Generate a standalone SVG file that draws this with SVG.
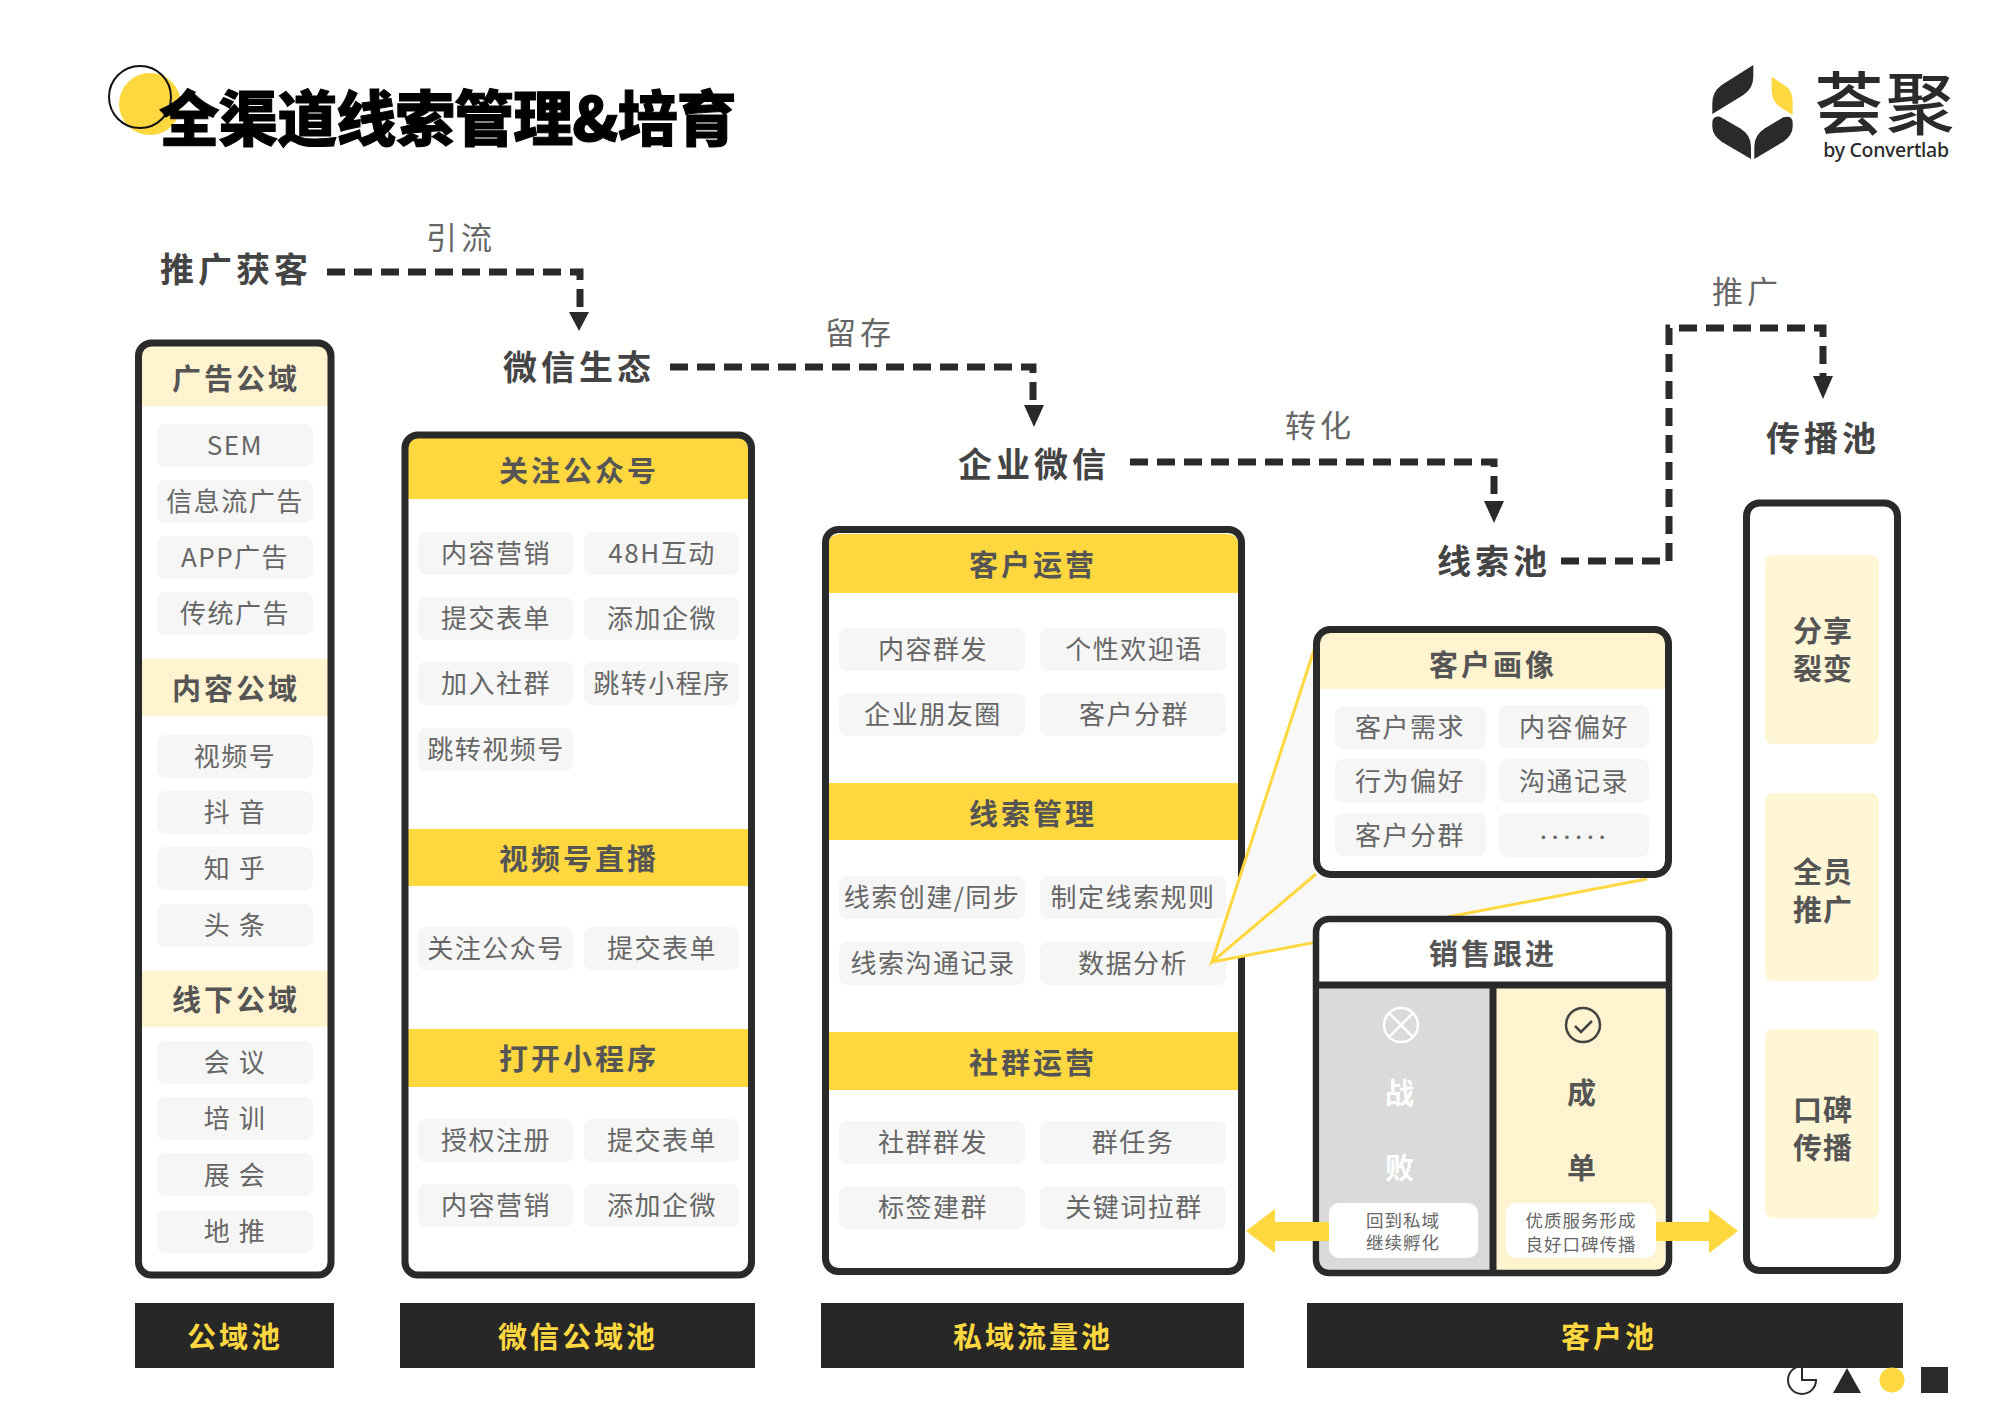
<svg xmlns="http://www.w3.org/2000/svg" width="2000" height="1421" viewBox="0 0 2000 1421">
<style>
text{font-family:"Noto Sans CJK SC","Noto Sans",sans-serif;text-anchor:middle;dominant-baseline:central;transform:translateY(-1.5px)}
.panel{fill:none;stroke:#2a2a2a;stroke-width:7}
.solid{fill:#FFD83F}
.pale{fill:#FFF4CF}
.item{fill:#F6F6F6}
.it{font-size:26px;letter-spacing:1.5px;fill:#666}
.hd{font-size:29px;letter-spacing:3px;font-weight:700;fill:#555}
.flow{font-size:34px;letter-spacing:4px;font-weight:700;fill:#444}
.lab{font-size:31px;letter-spacing:4px;fill:#666}
.dash{fill:none;stroke:#2a2a2a;stroke-width:7;stroke-dasharray:18 9}
.foot{fill:#272727}
.ft{font-size:29px;letter-spacing:3px;font-weight:700;fill:#FFD83F}
.ah{fill:#2a2a2a}
.card{font-size:29px;letter-spacing:1px;font-weight:700;fill:#555}
.small{font-size:17.500px;letter-spacing:1px;fill:#666}
</style>
<rect width="2000" height="1421" fill="#fff"/>
<g id="title">
<circle cx="150" cy="104" r="31" fill="#FFD83F"/>
<circle cx="140" cy="97" r="31" fill="none" stroke="#111" stroke-width="2"/>
<text x="447.500" y="116" font-size="60" font-weight="900" fill="#000" stroke="#000" stroke-width="1" letter-spacing="-1">全渠道线索管理&amp;培育</text>
</g>
<g id="logo">
<g transform="translate(1650 40) scale(.3333)">
<path fill="#2a2a2a" d="M310 75L215 135Q187 155 187 190V222L280 165Q310 145 310 110Z"/>
<path fill="#FFD83F" d="M365 110L410 140Q428 155 428 185V225L385 197Q365 180 365 150Z"/>
<path fill="#2a2a2a" d="M187 245Q190 228 210 230L270 265Q303 285 303 320V357L215 305Q187 285 187 260Z"/>
<path fill="#2a2a2a" d="M428 245Q425 225 400 232L345 265Q313 285 313 320V357L400 305Q428 285 428 260Z"/>
</g>
<text fill="#2a2a2a"><tspan x="1886" y="100" font-size="68" font-weight="500" letter-spacing="3">荟聚</tspan><tspan x="1886" y="150" font-size="19.500" font-weight="500" letter-spacing="-.3" style="font-family:'Noto Sans',sans-serif">by Convertlab</tspan></text>
</g>
<g id="connectors">
<path class="dash" d="M327 272H580V312"/>
<path class="ah" d="M569 312H589L579 331Z"/>
<path class="dash" d="M670 367H1033V405"/>
<path class="ah" d="M1024 405H1044L1034 427Z"/>
<path class="dash" d="M1130 462H1494V501"/>
<path class="ah" d="M1484 501H1504L1494 523Z"/>
<path class="dash" d="M1561 561H1669V328H1823V376"/>
<path class="ah" d="M1813 376H1833L1823 399Z"/>
</g>
<g id="flow-labels">
<text class="flow" x="236" y="269">推广获客</text>
<text class="lab" x="461" y="237">引流</text>
<text class="flow" x="579" y="367">微信生态</text>
<text class="lab" x="860" y="332">留存</text>
<text class="flow" x="1034" y="464">企业微信</text>
<text class="lab" x="1320" y="425">转化</text>
<text class="flow" x="1494" y="561">线索池</text>
<text class="lab" x="1747" y="291">推广</text>
<text class="flow" x="1823" y="438">传播池</text>
</g>
<g id="panel-public">
<path class="pale" d="M142 406V358Q142 346 154 346H316Q328 346 328 358V406Z"/>
<rect class="pale" x="142" y="659" width="186" height="57"/>
<rect class="pale" x="142" y="971" width="186" height="56"/>
<rect class="panel" x="138.500" y="343" width="192.500" height="932" rx="13"/>
<text class="hd" x="236" y="378">广告公域</text>
<text class="hd" x="236" y="688">内容公域</text>
<text class="hd" x="236" y="999">线下公域</text>
<g class="item">
<rect x="157" y="424" width="156" height="43" rx="8"/><rect x="157" y="480" width="156" height="43" rx="8"/><rect x="157" y="536" width="156" height="43" rx="8"/><rect x="157" y="592" width="156" height="43" rx="8"/>
<rect x="157" y="735" width="156" height="43" rx="8"/><rect x="157" y="791" width="156" height="43" rx="8"/><rect x="157" y="847" width="156" height="43" rx="8"/><rect x="157" y="904" width="156" height="43" rx="8"/>
<rect x="157" y="1041" width="156" height="43" rx="8"/><rect x="157" y="1097" width="156" height="43" rx="8"/><rect x="157" y="1153" width="156" height="43" rx="8"/><rect x="157" y="1210" width="156" height="43" rx="8"/>
</g>
<text class="it" x="235" y="445">SEM</text><text class="it" x="235" y="501">信息流广告</text><text class="it" x="235" y="557">APP广告</text><text class="it" x="235" y="613">传统广告</text>
<text class="it" x="235" y="756">视频号</text><text class="it" x="235" y="812">抖 音</text><text class="it" x="235" y="868">知 乎</text><text class="it" x="235" y="925">头 条</text>
<text class="it" x="235" y="1062">会 议</text><text class="it" x="235" y="1118">培 训</text><text class="it" x="235" y="1175">展 会</text><text class="it" x="235" y="1231">地 推</text>
</g>
<g id="panel-wechat">
<path class="solid" d="M408 499V450Q408 438 420 438H736Q748 438 748 450V499Z"/>
<rect class="solid" x="408" y="829" width="340" height="57"/>
<rect class="solid" x="408" y="1029" width="340" height="58"/>
<rect class="panel" x="405" y="435" width="346.500" height="840" rx="13"/>
<text class="hd" x="579" y="470">关注公众号</text>
<text class="hd" x="579" y="858">视频号直播</text>
<text class="hd" x="579" y="1058">打开小程序</text>
<g class="item">
<rect x="418" y="532" width="155" height="43" rx="8"/><rect x="584" y="532" width="155" height="43" rx="8"/>
<rect x="418" y="597" width="155" height="43" rx="8"/><rect x="584" y="597" width="155" height="43" rx="8"/>
<rect x="418" y="662" width="155" height="43" rx="8"/><rect x="584" y="662" width="155" height="43" rx="8"/>
<rect x="418" y="728" width="155" height="43" rx="8"/>
<rect x="418" y="927" width="155" height="43" rx="8"/><rect x="584" y="927" width="155" height="43" rx="8"/>
<rect x="418" y="1119" width="155" height="43" rx="8"/><rect x="584" y="1119" width="155" height="43" rx="8"/>
<rect x="418" y="1184" width="155" height="43" rx="8"/><rect x="584" y="1184" width="155" height="43" rx="8"/>
</g>
<text class="it" x="496" y="553">内容营销</text><text class="it" x="662" y="553">48H互动</text>
<text class="it" x="496" y="618">提交表单</text><text class="it" x="662" y="618">添加企微</text>
<text class="it" x="496" y="683">加入社群</text><text class="it" x="662" y="683">跳转小程序</text>
<text class="it" x="496" y="749">跳转视频号</text>
<text class="it" x="496" y="948">关注公众号</text><text class="it" x="662" y="948">提交表单</text>
<text class="it" x="496" y="1140">授权注册</text><text class="it" x="662" y="1140">提交表单</text>
<text class="it" x="496" y="1205">内容营销</text><text class="it" x="662" y="1205">添加企微</text>
</g>
<g id="panel-private">
<path class="solid" d="M829 593V544Q829 534 841 534H1226Q1238 534 1238 544V593Z"/>
<rect class="solid" x="829" y="783" width="409" height="57"/>
<rect class="solid" x="829" y="1032" width="409" height="58"/>
<rect class="panel" x="825.500" y="529.500" width="416" height="742" rx="13"/>
<text class="hd" x="1033" y="564">客户运营</text>
<text class="hd" x="1033" y="813">线索管理</text>
<text class="hd" x="1033" y="1062">社群运营</text>
<g class="item">
<rect x="839" y="628" width="186" height="43" rx="8"/><rect x="1040" y="628" width="186" height="43" rx="8"/>
<rect x="839" y="693" width="186" height="43" rx="8"/><rect x="1040" y="693" width="186" height="43" rx="8"/>
<rect x="839" y="876" width="186" height="43" rx="8"/><rect x="1040" y="876" width="186" height="43" rx="8"/>
<rect x="839" y="942" width="186" height="43" rx="8"/><rect x="1040" y="942" width="186" height="43" rx="8"/>
<rect x="839" y="1121" width="186" height="43" rx="8"/><rect x="1040" y="1121" width="186" height="43" rx="8"/>
<rect x="839" y="1186" width="186" height="43" rx="8"/><rect x="1040" y="1186" width="186" height="43" rx="8"/>
</g>
<text class="it" x="933" y="649">内容群发</text><text class="it" x="1134" y="649">个性欢迎语</text>
<text class="it" x="933" y="714">企业朋友圈</text><text class="it" x="1134" y="714">客户分群</text>
<text class="it" x="932" y="897">线索创建/同步</text><text class="it" x="1133" y="897">制定线索规则</text>
<text class="it" x="933" y="963">线索沟通记录</text><text class="it" x="1133" y="963">数据分析</text>
<text class="it" x="933" y="1142">社群群发</text><text class="it" x="1133" y="1142">群任务</text>
<text class="it" x="933" y="1207">标签建群</text><text class="it" x="1134" y="1207">关键词拉群</text>
</g>
<g id="callout">
<path d="M1212 962L1314 650V874L1647 879L1212 962Z" fill="#F8F8F8"/>
<path d="M1314 650L1212 962L1316 874M1212 962L1647 879" fill="none" stroke="#FFD83F" stroke-width="3"/>
</g>
<g id="panel-profile">
<rect x="1316" y="629" width="353" height="246" rx="14" fill="#fff"/>
<path class="pale" d="M1320 689V644Q1320 632 1332 632H1653Q1665 632 1665 644V689Z"/>
<rect x="1316.500" y="629.500" width="352" height="245" rx="14" fill="none" stroke="#2a2a2a" stroke-width="7"/>
<text class="hd" x="1493" y="664">客户画像</text>
<g class="item">
<rect x="1335" y="706" width="151" height="43" rx="8"/><rect x="1499" y="705" width="150" height="43" rx="8"/>
<rect x="1335" y="759" width="151" height="44" rx="8"/><rect x="1499" y="759" width="150" height="44" rx="8"/>
<rect x="1335" y="813" width="151" height="43" rx="8"/><rect x="1499" y="813" width="150" height="44" rx="8"/>
</g>
<text class="it" x="1410" y="727">客户需求</text><text class="it" x="1574" y="727">内容偏好</text>
<text class="it" x="1410" y="781">行为偏好</text><text class="it" x="1574" y="781">沟通记录</text>
<text class="it" x="1410" y="835">客户分群</text>
<text class="it" x="1575" y="829" style="letter-spacing:4.500px">......</text>
</g>
<g id="panel-sales">
<rect x="1316" y="919" width="353" height="354" rx="13" fill="#fff"/>
<path fill="#DADADA" d="M1320 986H1491V1273H1332Q1320 1273 1320 1260Z"/>
<path class="pale" d="M1491 986H1665V1260Q1665 1273 1652 1273H1491Z"/>
<rect x="1316" y="919" width="353" height="354" rx="13" fill="none" stroke="#2a2a2a" stroke-width="6.500"/>
<path d="M1316 985H1669M1493 985V1276" fill="none" stroke="#2a2a2a" stroke-width="7"/>
<text class="hd" x="1493" y="953">销售跟进</text>
<g fill="none" stroke="#fff" stroke-width="2.500"><circle cx="1401" cy="1025" r="17"/><path d="M1389 1013L1413 1037M1413 1013L1389 1037"/></g>
<g fill="none" stroke="#444" stroke-width="2.500"><circle cx="1583" cy="1025" r="17"/><path d="M1575 1026L1581 1032L1592 1021"/></g>
<text class="card" x="1400" y="1092" style="fill:#fff">战</text>
<text class="card" x="1400" y="1167" style="fill:#fff">败</text>
<text class="card" x="1582" y="1092">成</text>
<text class="card" x="1582" y="1167">单</text>
<path class="solid" d="M1246 1231L1275 1209V1222H1330V1241H1275V1253Z"/>
<path class="solid" d="M1738 1231L1709 1209V1222H1655V1241H1709V1253Z"/>
<rect x="1329" y="1203" width="149" height="55" rx="10" fill="#fff"/>
<rect x="1506" y="1203" width="150" height="55" rx="10" fill="#fff"/>
<text class="small"><tspan x="1403" y="1220">回到私域</tspan><tspan x="1403" y="1242">继续孵化</tspan></text>
<text class="small"><tspan x="1581" y="1220">优质服务形成</tspan><tspan x="1581" y="1244">良好口碑传播</tspan></text>
</g>
<g id="panel-spread">
<rect class="panel" x="1746.500" y="503" width="151" height="767.500" rx="13"/>
<rect x="1765" y="555" width="114" height="189" rx="8" fill="#FFF6D6"/>
<rect x="1765" y="793" width="114" height="188" rx="8" fill="#FFF6D6"/>
<rect x="1765" y="1029" width="114" height="189" rx="8" fill="#FFF6D6"/>
<text class="card"><tspan x="1823" y="630">分享</tspan><tspan x="1823" y="668">裂变</tspan></text>
<text class="card"><tspan x="1823" y="871">全员</tspan><tspan x="1823" y="909">推广</tspan></text>
<text class="card"><tspan x="1823" y="1109">口碑</tspan><tspan x="1823" y="1147">传播</tspan></text>
</g>
<g id="pool-bars">
<rect class="foot" x="135" y="1303" width="199" height="65"/>
<rect class="foot" x="400" y="1303" width="355" height="65"/>
<rect class="foot" x="821" y="1303" width="423" height="65"/>
<rect class="foot" x="1307" y="1303" width="596" height="65"/>
<text class="ft" x="235" y="1336">公域池</text>
<text class="ft" x="578" y="1336">微信公域池</text>
<text class="ft" x="1033" y="1336">私域流量池</text>
<text class="ft" x="1609" y="1336">客户池</text>
</g>
<g id="deco">
<path d="M1802 1366A14 14 0 1 0 1816 1380H1802Z" fill="none" stroke="#2a2a2a" stroke-width="2"/>
<path d="M1847 1368L1861 1393H1833Z" fill="#2a2a2a"/>
<circle cx="1892" cy="1380" r="12.500" fill="#FFD83F"/>
<rect x="1921" y="1367" width="27" height="26" fill="#2a2a2a"/>
</g>
</svg>
